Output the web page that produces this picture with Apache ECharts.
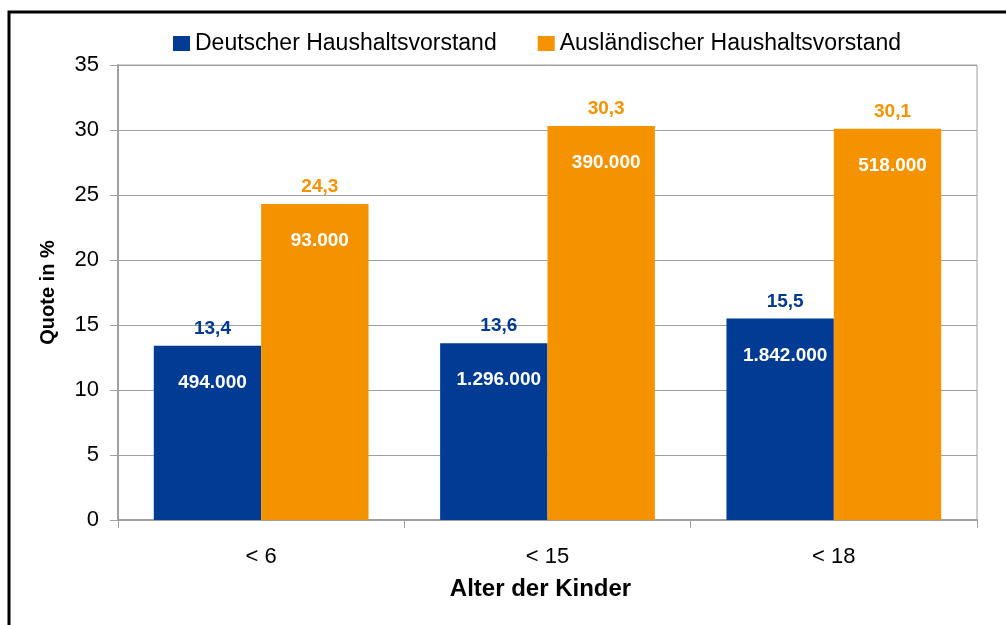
<!DOCTYPE html>
<html>
<head>
<meta charset="utf-8">
<script src="https://cdn.jsdelivr.net/npm/echarts@6/dist/echarts.min.js"></script>
<style>
  html, body { margin: 0; padding: 0; background: #fff; }
  #chart { width: 1006px; height: 625px; }
</style>
</head>
<body>
<div id="chart"></div>
<script>
var categories = ['< 6', '< 15', '< 18'];
var seriesNames = ['Deutscher Haushaltsvorstand', 'Ausländischer Haushaltsvorstand'];
var quoteDeutsch = [13.4, 13.6, 15.5];
var quoteAusl = [24.3, 30.3, 30.1];
var countDeutsch = [494000, 1296000, 1842000];
var countAusl = [93000, 390000, 518000];

var blue = '#013b93';
var orange = '#f59200';
var grey = '#a0a0a0';
var font = 'Liberation Sans, Arial, sans-serif';

function fmtQuote(v) { return v.toFixed(1).replace('.', ','); }
function fmtCount(v) { return String(v).replace(/\B(?=(\d{3})+(?!\d))/g, '.'); }

// one label per bar: percentage above the bar, household count inside it
function barLabel(color, counts) {
  return {
    show: true, position: 'insideTop', distance: 0, offset: [5, -37],
    fontFamily: font,
    formatter: function (p) {
      return '{q|' + fmtQuote(p.value) + '}\n{c|' + fmtCount(counts[p.dataIndex]) + '}';
    },
    rich: {
      q: { color: color, fontSize: 19, fontWeight: 'bold', fontFamily: font, lineHeight: 40 },
      c: { color: '#fff', fontSize: 19, fontWeight: 'bold', fontFamily: font, lineHeight: 68 }
    }
  };
}

var chart = echarts.init(document.getElementById('chart'), null, { renderer: 'canvas' });
chart.setOption({
  animation: false,
  textStyle: { fontFamily: font },
  graphic: [{
    type: 'rect', silent: true, z: 100,
    shape: { x: 9, y: 12, width: 1200, height: 800 },
    style: { fill: 'none', stroke: '#000', lineWidth: 3 }
  }],
  legend: {
    data: seriesNames, left: 173, top: 32, padding: 0, icon: 'rect',
    itemWidth: 17, itemHeight: 15, itemGap: 41,
    textStyle: { fontSize: 23, color: '#000', fontFamily: font }
  },
  grid: {
    left: 118, top: 65, right: 29, bottom: 105, containLabel: false,
    show: true, borderColor: grey, borderWidth: 1
  },
  xAxis: {
    type: 'category', data: categories,
    name: 'Alter der Kinder', nameLocation: 'middle', nameGap: 57,
    nameTextStyle: { fontSize: 24, fontWeight: 'bold', color: '#000', fontFamily: font, padding: [0, 14, 0, 0] },
    axisLine: { lineStyle: { color: grey, width: 2 } },
    axisTick: { show: true, alignWithLabel: false, length: 8, lineStyle: { color: grey, width: 1 } },
    axisLabel: { fontSize: 22, color: '#000', margin: 26, fontFamily: font }
  },
  yAxis: {
    type: 'value', min: 0, max: 35, interval: 5,
    name: 'Quote in %', nameLocation: 'middle', nameGap: 60, nameRotate: 90,
    nameTextStyle: { fontSize: 20, fontWeight: 'bold', color: '#000', fontFamily: font },
    axisLine: { show: true, lineStyle: { color: grey, width: 2 } },
    axisTick: { show: true, length: 8, lineStyle: { color: grey, width: 1 } },
    axisLabel: { fontSize: 22, color: '#000', margin: 19, fontFamily: font },
    splitLine: { show: true, lineStyle: { color: grey, width: 1 } }
  },
  series: [
    { name: seriesNames[0], type: 'bar', data: quoteDeutsch, barGap: '0%', barCategoryGap: '25%',
      itemStyle: { color: blue }, label: barLabel(blue, countDeutsch) },
    { name: seriesNames[1], type: 'bar', data: quoteAusl, barGap: '0%', barCategoryGap: '25%',
      itemStyle: { color: orange }, label: barLabel(orange, countAusl) }
  ]
});
window.addEventListener('resize', function () { chart.resize(); });
</script>
</body>
</html>
